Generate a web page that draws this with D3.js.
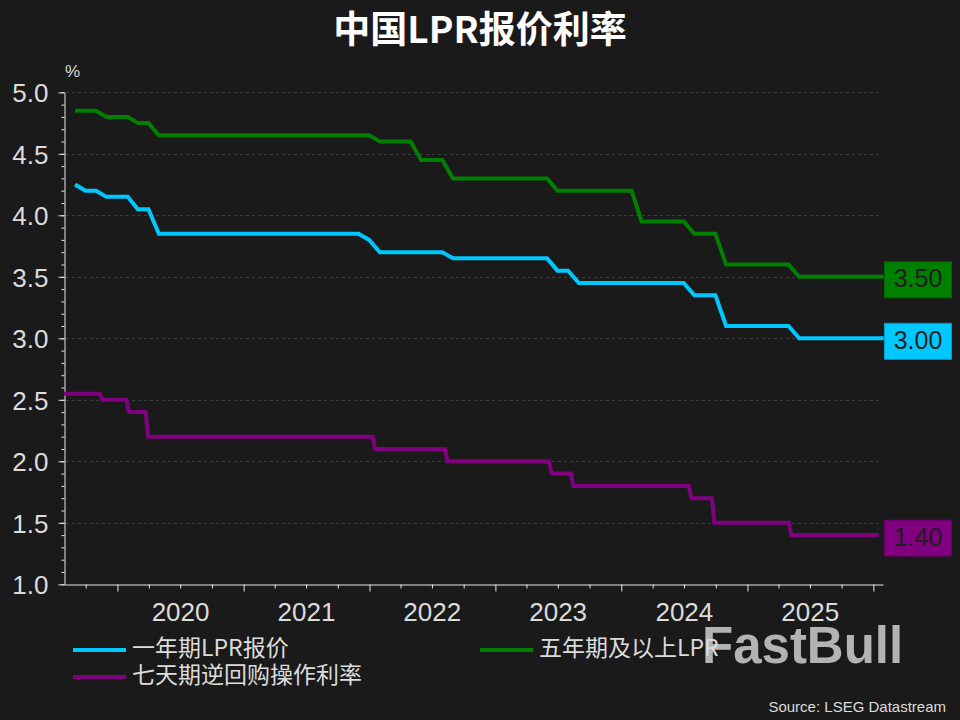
<!DOCTYPE html>
<html>
<head>
<meta charset="utf-8">
<script src="https://cdn.jsdelivr.net/npm/d3@7"></script>
<style>
  html, body { margin: 0; padding: 0; background: #1a1a1a; }
  svg { display: block; }
</style>
</head>
<body>
<script>
// ---------------- DATA ----------------
const title = "中国LPR报价利率";
const unitLabel = "%";
const sourceText = "Source: LSEG Datastream";
const watermark = "FastBull";

const seriesNames = ["一年期LPR报价", "五年期及以上LPR", "七天期逆回购操作利率"];
const seriesColors = ["#00c8ff", "#007f00", "#800080"];

// monthly observations (month-end)
const months = [
  "2019-08","2019-09","2019-10","2019-11","2019-12",
  "2020-01","2020-02","2020-03","2020-04","2020-05","2020-06","2020-07","2020-08","2020-09","2020-10","2020-11","2020-12",
  "2021-01","2021-02","2021-03","2021-04","2021-05","2021-06","2021-07","2021-08","2021-09","2021-10","2021-11","2021-12",
  "2022-01","2022-02","2022-03","2022-04","2022-05","2022-06","2022-07","2022-08","2022-09","2022-10","2022-11","2022-12",
  "2023-01","2023-02","2023-03","2023-04","2023-05","2023-06","2023-07","2023-08","2023-09","2023-10","2023-11","2023-12",
  "2024-01","2024-02","2024-03","2024-04","2024-05","2024-06","2024-07","2024-08","2024-09","2024-10","2024-11","2024-12",
  "2025-01","2025-02","2025-03","2025-04","2025-05","2025-06","2025-07","2025-08","2025-09","2025-10","2025-11","2025-12",
  "2026-01"
];

const lpr1y = [
  4.25,4.20,4.20,4.15,4.15,
  4.15,4.05,4.05,3.85,3.85,3.85,3.85,3.85,3.85,3.85,3.85,3.85,
  3.85,3.85,3.85,3.85,3.85,3.85,3.85,3.85,3.85,3.85,3.85,3.80,
  3.70,3.70,3.70,3.70,3.70,3.70,3.70,3.65,3.65,3.65,3.65,3.65,
  3.65,3.65,3.65,3.65,3.65,3.55,3.55,3.45,3.45,3.45,3.45,3.45,
  3.45,3.45,3.45,3.45,3.45,3.45,3.35,3.35,3.35,3.10,3.10,3.10,
  3.10,3.10,3.10,3.10,3.00,3.00,3.00,3.00,3.00,3.00,3.00,3.00,
  3.00
];

const lpr5y = [
  4.85,4.85,4.85,4.80,4.80,
  4.80,4.75,4.75,4.65,4.65,4.65,4.65,4.65,4.65,4.65,4.65,4.65,
  4.65,4.65,4.65,4.65,4.65,4.65,4.65,4.65,4.65,4.65,4.65,4.65,
  4.60,4.60,4.60,4.60,4.45,4.45,4.45,4.30,4.30,4.30,4.30,4.30,
  4.30,4.30,4.30,4.30,4.30,4.20,4.20,4.20,4.20,4.20,4.20,4.20,
  4.20,3.95,3.95,3.95,3.95,3.95,3.85,3.85,3.85,3.60,3.60,3.60,
  3.60,3.60,3.60,3.60,3.50,3.50,3.50,3.50,3.50,3.50,3.50,3.50,
  3.50
];

// 7-day reverse repo (weekly observations around each change)
const repoDates = [
  "2019-07-30","2019-11-11","2019-11-18","2020-01-27","2020-02-03","2020-03-23","2020-03-30",
  "2022-01-10","2022-01-17","2022-08-08","2022-08-15","2023-06-06","2023-06-13",
  "2023-08-08","2023-08-15","2024-07-15","2024-07-22","2024-09-20","2024-09-27",
  "2025-05-01","2025-05-08","2026-01-16"
];
const repoValues = [
  2.55,2.55,2.50,2.50,2.40,2.40,2.20,
  2.20,2.10,2.10,2.00,2.00,1.90,
  1.90,1.80,1.80,1.70,1.70,1.50,
  1.50,1.40,1.40
];

const lastLabels = ["3.00", "3.50", "1.40"];
const yMajorTicks = [1.0,1.5,2.0,2.5,3.0,3.5,4.0,4.5,5.0];
const yearLabels = ["2020","2021","2022","2023","2024","2025"];
const xDomain = ["2019-07-30","2026-01-29"];

// ---------------- CHART ----------------
const W = 960, H = 720;
const svg = d3.select("body").append("svg").attr("width", W).attr("height", H);
svg.append("rect").attr("width", W).attr("height", H).attr("fill", "#1a1a1a");

const pDay = d3.timeParse("%Y-%m-%d");
const pMonth = d3.timeParse("%Y-%m");
const monthEnd = m => d3.timeDay.offset(d3.timeMonth.offset(pMonth(m), 1), -1);

const x = d3.scaleTime().domain(xDomain.map(pDay)).range([64, 883]);
const y = d3.scaleLinear().domain([1, 5]).range([584.3, 92.3]);

const font = "'Liberation Sans', Arial, sans-serif";
const cjk = "'Noto Sans CJK SC', 'Noto Sans', sans-serif";
const txtCol = "#dcdcdc";

// title
svg.append("text").attr("x", 480).attr("y", 43).attr("text-anchor", "middle")
  .attr("font-family", cjk).attr("font-weight", 700).attr("font-size", 37)
  .attr("fill", "#ffffff").text(title);

svg.append("text").attr("x", 65).attr("y", 77)
  .attr("font-family", font).attr("font-size", 17).attr("fill", txtCol).text(unitLabel);

// grid
const gridVals = yMajorTicks.filter(v => v > 1);
svg.append("g").selectAll("line").data(gridVals).join("line")
  .attr("x1", 66).attr("x2", 880)
  .attr("y1", d => Math.round(y(d)) + 0.5).attr("y2", d => Math.round(y(d)) + 0.5)
  .attr("stroke", "#3d3d3d").attr("stroke-width", 1).attr("stroke-dasharray", "3,3");

// y axis minor
const yMinor = d3.range(10, 51).map(v => v / 10);
const gyMinor = svg.append("g").attr("transform", "translate(64.5,0)")
  .call(d3.axisLeft(y).tickValues(yMinor).tickSize(3).tickFormat(""));
gyMinor.select(".domain").remove();
gyMinor.selectAll("line").attr("stroke", "#e6e6e6");

const gy = svg.append("g").attr("transform", "translate(64.5,0)")
  .call(d3.axisLeft(y).tickValues(yMajorTicks).tickSize(6).tickSizeOuter(0).tickPadding(10).tickFormat(d3.format(".1f")));
gy.select(".domain").attr("stroke", "#e6e6e6");
gy.selectAll("line").attr("stroke", "#e6e6e6");
gy.selectAll("text").attr("font-family", font).attr("font-size", 26).attr("fill", txtCol).attr("dy", "0.36em");

// x axis
const quarterTicks = d3.timeMonth.every(3).range(x.domain()[0], x.domain()[1]);
const gxMinor = svg.append("g").attr("transform", "translate(0,584.5)")
  .call(d3.axisBottom(x).tickValues(quarterTicks.filter(d => d.getMonth() !== 0)).tickSize(4).tickFormat(""));
gxMinor.select(".domain").remove();
gxMinor.selectAll("line").attr("stroke", "#e6e6e6");

const gx = svg.append("g").attr("transform", "translate(0,584.5)")
  .call(d3.axisBottom(x).tickValues(d3.timeYear.range(x.domain()[0], x.domain()[1])).tickSize(7).tickSizeOuter(0).tickFormat(""));
gx.select(".domain").attr("stroke", "#e6e6e6");
gx.selectAll("line").attr("stroke", "#e6e6e6");

svg.append("g").selectAll("text").data(yearLabels).join("text")
  .attr("x", d => x(new Date(+d, 6, 2)))
  .attr("y", 621).attr("text-anchor", "middle")
  .attr("font-family", font).attr("font-size", 26).attr("fill", txtCol).text(d => d);

// lines
const monthlyDates = months.map(monthEnd);
const series = [
  monthlyDates.map((d, i) => [d, lpr1y[i]]),
  monthlyDates.map((d, i) => [d, lpr5y[i]]),
  repoDates.map((d, i) => [pDay(d), repoValues[i]])
];
const line = d3.line().x(d => x(d[0])).y(d => y(d[1]));
svg.append("g").selectAll("path").data(series).join("path")
  .attr("d", line).attr("fill", "none")
  .attr("stroke", (d, i) => seriesColors[i]).attr("stroke-width", 4);

// end labels
const darker = c => d3.color(c).darker(0.6).formatHex();
series.forEach((s, i) => {
  const last = s[s.length - 1];
  const cy = y(last[1]) + 3;
  svg.append("rect").attr("x", 884.5).attr("y", cy - 18).attr("width", 67).attr("height", 36)
    .attr("fill", seriesColors[i]).attr("stroke", darker(seriesColors[i])).attr("stroke-width", 1);
  svg.append("text").attr("x", 918).attr("y", cy + 1).attr("text-anchor", "middle")
    .attr("dominant-baseline", "middle")
    .attr("font-family", font).attr("font-size", 25).attr("fill", "#1e1e1e").text(lastLabels[i]);
});

// watermark
svg.append("text").attr("x", 702).attr("y", 663)
  .attr("font-family", font).attr("font-weight", 700).attr("font-size", 51)
  .attr("fill", "#c4c4c4").attr("fill-opacity", 0.9).text(watermark);

// legend
const legendPos = [[73, 650], [480, 650], [73, 677]];
seriesNames.forEach((name, i) => {
  const [lx, ly] = legendPos[i];
  svg.append("line").attr("x1", lx).attr("x2", lx + 53).attr("y1", ly).attr("y2", ly)
    .attr("stroke", seriesColors[i]).attr("stroke-width", 4);
  svg.append("text").attr("x", lx + 59).attr("y", ly).attr("dominant-baseline", "middle")
    .attr("font-family", cjk).attr("font-size", 23).attr("fill", txtCol).text(name);
});

svg.append("text").attr("x", 946).attr("y", 712).attr("text-anchor", "end")
  .attr("font-family", font).attr("font-size", 15).attr("fill", txtCol).text(sourceText);
</script>
</body>
</html>
